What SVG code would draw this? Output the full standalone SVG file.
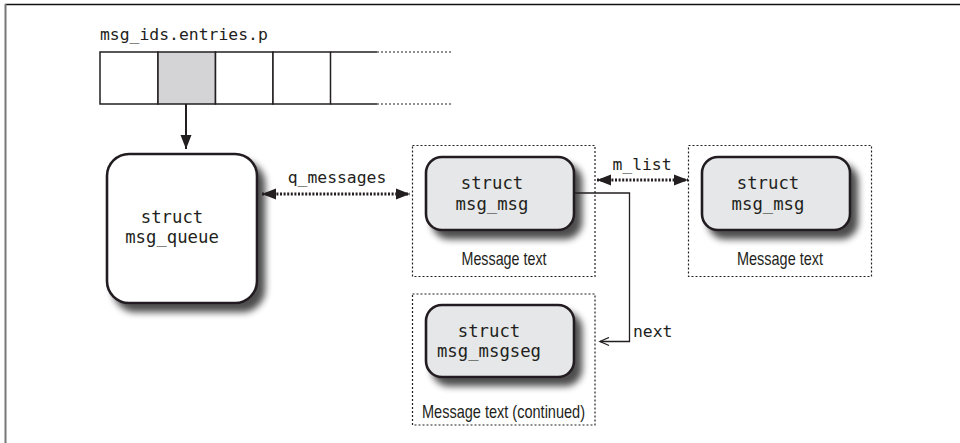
<svg xmlns="http://www.w3.org/2000/svg" width="960" height="443" viewBox="0 0 960 443">
<style>
.mono{font-family:"DejaVu Sans Mono","Liberation Mono",monospace;fill:#231f20}
.node{font-size:17.3px}
.lbl{font-size:16.4px}
.sans{font-family:"Liberation Sans",Arial,sans-serif;font-size:18.5px;fill:#231f20}
.cell{fill:#fff;stroke:#231f20;stroke-width:1.5}
.box{fill:#e6e7e8;stroke:#231f20;stroke-width:2.6}
.dash{fill:none;stroke:#231f20;stroke-width:1.2;stroke-dasharray:2 2}
.dots{fill:none;stroke:#231f20;stroke-width:3;stroke-dasharray:2 1.6}
.thin{fill:none;stroke:#231f20;stroke-width:1.3}
</style>
<defs>
<filter id="sh" x="-20%" y="-20%" width="150%" height="150%">
<feGaussianBlur in="SourceAlpha" stdDeviation="3.5" result="b"/>
<feOffset dx="7" dy="8" result="o"/>
<feComponentTransfer in="o" result="c"><feFuncA type="linear" slope="0.7"/></feComponentTransfer>
<feMerge><feMergeNode in="c"/><feMergeNode in="SourceGraphic"/></feMerge>
</filter>
<marker id="tri" markerUnits="userSpaceOnUse" markerWidth="16" markerHeight="12" refX="14" refY="6" orient="auto-start-reverse" viewBox="0 0 16 12">
<path d="M0,0.5 L14,6 L0,11.5 Z" fill="#231f20"/>
</marker>
<marker id="open" markerUnits="userSpaceOnUse" markerWidth="12" markerHeight="10" refX="10" refY="5" orient="auto" viewBox="0 0 12 10">
<path d="M1,1 L10,5 L1,9" fill="none" stroke="#231f20" stroke-width="1.3"/>
</marker>
</defs>
<rect width="960" height="443" fill="#fff"/>
<line x1="5" y1="4.5" x2="960" y2="4.5" stroke="#111" stroke-width="1.6"/>
<line x1="5.5" y1="4" x2="5.5" y2="443" stroke="#777" stroke-width="2"/>

<g id="array">
<text class="mono lbl" x="100" y="40">msg_ids.entries.p</text>
<rect class="cell" x="100" y="52" width="58" height="52"/>
<rect class="cell" x="158" y="52" width="57.5" height="52" style="fill:#d4d4d6"/>
<rect class="cell" x="215.5" y="52" width="57.5" height="52"/>
<rect class="cell" x="273" y="52" width="57.5" height="52"/>
<path d="M330.5,52 H377 M330.5,104 H377" class="thin" stroke-width="1.5"/>
<path d="M377,52 H452 M377,104 H452" fill="none" stroke="#231f20" stroke-width="1.2" stroke-dasharray="2 2"/>
</g>

<g id="msg_queue">
<rect class="box" x="107" y="154" width="150" height="149" rx="22" style="fill:#fff" filter="url(#sh)"/>
<text class="mono node" x="172" y="223" text-anchor="middle">struct</text>
<text class="mono node" x="172" y="243" text-anchor="middle">msg_queue</text>
</g>

<g id="msg_msg1">
<rect class="dash" x="412.5" y="145.5" width="182.5" height="131"/>
<rect class="box" x="426" y="157" width="148" height="73" rx="16" filter="url(#sh)"/>
<text class="mono node" x="492" y="189" text-anchor="middle">struct</text>
<text class="mono node" x="492" y="210" text-anchor="middle">msg_msg</text>
<text class="sans" x="504" y="265" text-anchor="middle" textLength="85" lengthAdjust="spacingAndGlyphs">Message text</text>
</g>

<g id="msg_msg2">
<rect class="dash" x="688.5" y="145.5" width="183" height="131"/>
<rect class="box" x="702" y="157" width="148" height="73" rx="16" filter="url(#sh)"/>
<text class="mono node" x="768" y="189" text-anchor="middle">struct</text>
<text class="mono node" x="768" y="210" text-anchor="middle">msg_msg</text>
<text class="sans" x="780" y="265" text-anchor="middle" textLength="86" lengthAdjust="spacingAndGlyphs">Message text</text>
</g>

<g id="msg_msgseg">
<rect class="dash" x="412.5" y="294" width="182.5" height="131"/>
<rect class="box" x="426" y="305" width="148" height="72" rx="16" filter="url(#sh)"/>
<text class="mono node" x="489" y="337" text-anchor="middle">struct</text>
<text class="mono node" x="489" y="357" text-anchor="middle">msg_msgseg</text>
<text class="sans" x="503.5" y="418" text-anchor="middle" textLength="163" lengthAdjust="spacingAndGlyphs">Message text (continued)</text>
</g>

<g id="connectors">
<line x1="186" y1="104" x2="186" y2="149" stroke="#231f20" stroke-width="2" marker-end="url(#tri)"/>
<line class="dots" x1="262" y1="194" x2="410" y2="194" marker-start="url(#tri)" marker-end="url(#tri)"/>
<text class="mono lbl" x="337" y="183" text-anchor="middle">q_messages</text>
<line class="dots" x1="597" y1="180" x2="688" y2="180" marker-start="url(#tri)" marker-end="url(#tri)"/>
<text class="mono lbl" x="642" y="170" text-anchor="middle">m_list</text>
<path class="thin" d="M574,193 H629.5 V341.5 H600" marker-end="url(#open)"/>
<text class="mono lbl" x="633" y="337">next</text>
</g>
</svg>
